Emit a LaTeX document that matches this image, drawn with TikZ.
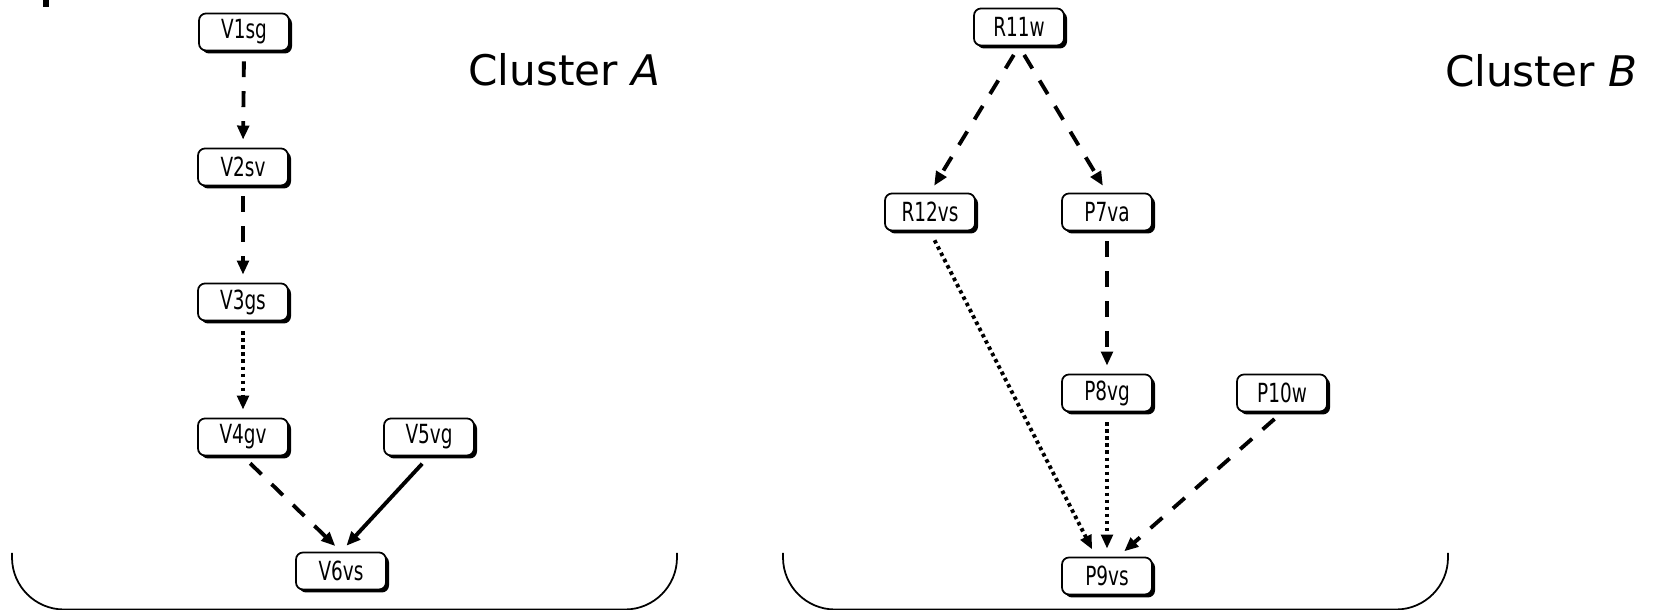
\documentclass[tikz,border=0pt]{standalone}
\usepackage{fontspec}
\setmainfont{DejaVu Sans}
\newfontfamily\nodefont[FakeStretch=0.7]{DejaVu Sans}
\usetikzlibrary{shadows,arrows.meta}

\begin{document}
\begin{tikzpicture}
      \useasboundingbox(0,0) rectangle (16.54,6.10);
      \tikzset{V/.style = {shape=rectangle, rounded corners=2pt, draw, fill=white, text=black, line width=0.5pt, minimum width=0.9cm, minimum height=0.37cm, inner sep=0pt, font=\nodefont\fontsize{7.5}{8}\selectfont, drop shadow={fill=black, opacity=1, shadow xshift=0.03cm, shadow yshift=-0.03cm}}}
      \tikzset{E/.style = {draw, line width=1.1pt, -{Triangle[length=4pt,width=3.3pt]}, shorten <=0.1cm, shorten >=0.08cm}}
      \tikzset{Ed/.style = {E, dash pattern=on 4.5pt off 4pt}}
      \tikzset{Eo/.style = {E, dash pattern=on 1pt off 1pt}}
      \tikzset{C/.style = {font=\fontsize{12}{14}\selectfont, anchor=base}}
      \fill (0.43,6.03) rectangle (0.49,6.10);
      % cluster A
      \node[V](v1) at (2.44,5.78) {V1sg};
      \node[V](v2) at (2.43,4.43) {V2sv};
      \node[V](v3) at (2.43,3.08) {V3gs};
      \node[V](v4) at (2.43,1.73) {V4gv};
      \node[V](v5) at (4.29,1.73) {V5vg};
      \node[V](v6) at (3.41,0.39) {V6vs};
      \node[C](ca) at (5.645,5.24) {Cluster \textit{A}};
      % cluster B
      \node[V](r11) at (10.19,5.83) {R11w};
      \node[V](r12) at (9.30,3.98) {R12vs};
      \node[V](p7) at (11.07,3.98) {P7va};
      \node[V](p8) at (11.07,2.17) {P8vg};
      \node[V](p10) at (12.82,2.17) {P10w};
      \node[V](p9) at (11.07,0.34) {P9vs};
      \node[C](cb) at (15.41,5.23) {Cluster \textit{B}};
      \draw[Ed](v1.south) to (v2.north);
      \draw[Ed](v2.south) to (v3.north);
      \draw[Eo](v3.south) to (v4.north);
      \draw[Ed](v4.south) to (v6.north);
      \draw[E](v5.south) to (v6.north);
      \draw[Ed](r11.south) to (r12.north);
      \draw[Ed](r11.south) to (p7.north);
      \draw[Ed](p7.south) to (p8.north);
      \draw[Eo](r12.south) to (p9.120);
      \draw[Eo](p8.south) to (p9.north);
      \draw[Ed](p10.south) to (p9.60);
      % brackets
      \draw[line width=0.5pt, rounded corners=0.52cm] (0.12,0.57) -- (0.12,0.005) -- (6.77,0.005) -- (6.77,0.57);
      \draw[line width=0.5pt, rounded corners=0.52cm] (7.83,0.57) -- (7.83,0.005) -- (14.48,0.005) -- (14.48,0.57);
\end{tikzpicture}
\end{document}
